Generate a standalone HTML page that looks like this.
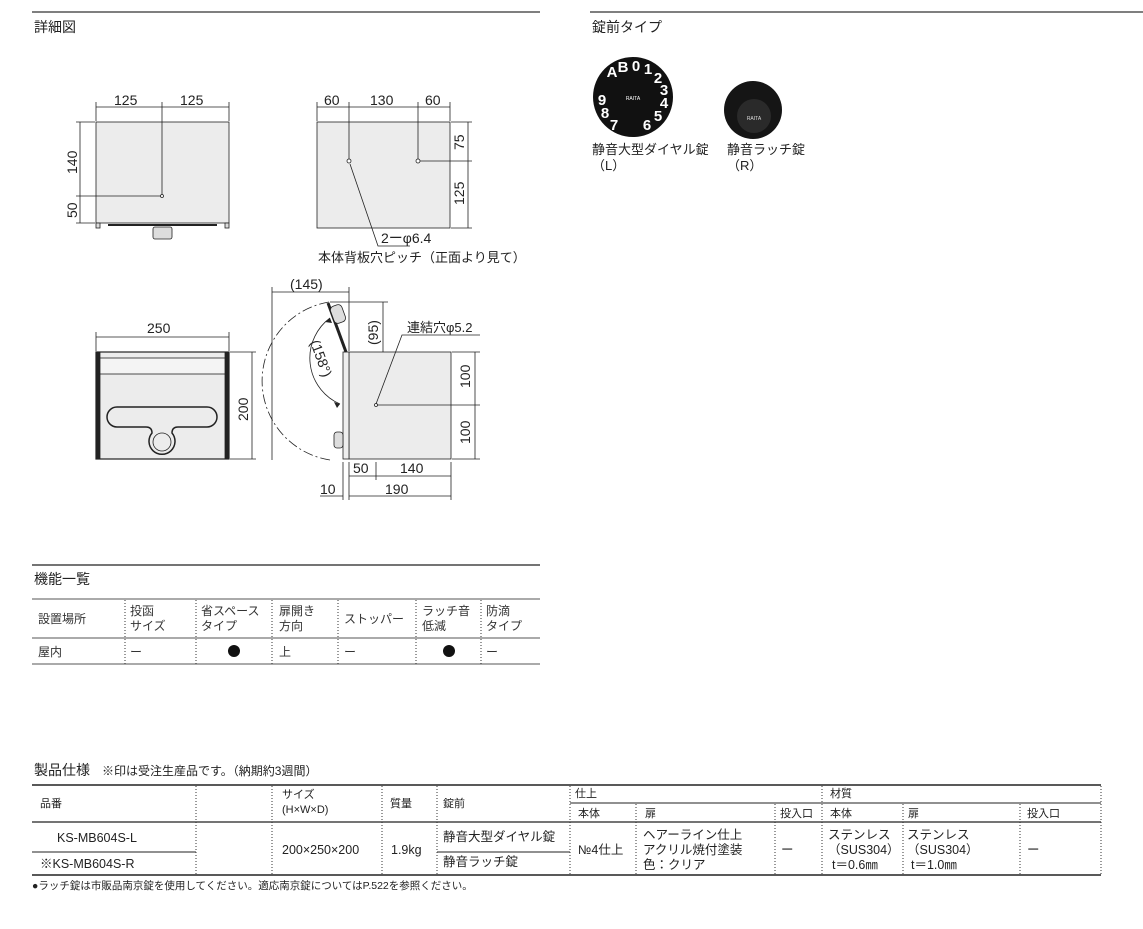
<!DOCTYPE html>
<html><head><meta charset="utf-8"><style>
html,body{margin:0;padding:0;background:#fff;}
svg{display:block;font-family:"Liberation Sans","Noto Sans CJK JP",sans-serif;}
</style></head><body>
<svg width="1143" height="929" viewBox="0 0 1143 929" xmlns="http://www.w3.org/2000/svg">
<g fill="#222">
<!-- headers -->
<line x1="32" y1="12" x2="540" y2="12" stroke="#333" stroke-width="1.2"/>
<line x1="590" y1="12" x2="1143" y2="12" stroke="#333" stroke-width="1.2"/>
<text x="34" y="32" font-size="14">詳細図</text>
<text x="592" y="32" font-size="14">錠前タイプ</text>
</g>

<!-- Drawing 1 -->
<g stroke="#222" stroke-width="0.8" fill="none">
<rect x="96" y="122" width="133" height="101" fill="#ececec"/>
<line x1="96" y1="102" x2="96" y2="121"/><line x1="229" y1="102" x2="229" y2="121"/>
<line x1="96" y1="107" x2="229" y2="107"/><line x1="162" y1="102" x2="162" y2="196"/>
<line x1="76" y1="122" x2="95" y2="122"/><line x1="80" y1="122" x2="80" y2="223"/>
<line x1="76" y1="196" x2="162" y2="196"/><line x1="76" y1="223" x2="95" y2="223"/>
<circle cx="162" cy="196" r="1.5" fill="#fff"/>
<rect x="96" y="223" width="4" height="5" fill="#ddd"/><rect x="225" y="223" width="4" height="5" fill="#ddd"/>
<line x1="108" y1="225" x2="217" y2="225" stroke-width="2"/>
<rect x="153" y="227" width="19" height="12" rx="2" fill="#ddd"/>
</g>
<g font-size="14" fill="#222">
<text x="114" y="105">125</text><text x="180" y="105">125</text>
<text transform="translate(77,174) rotate(-90)">140</text>
<text transform="translate(77,218) rotate(-90)">50</text>
</g>

<!-- Drawing 2 -->
<g stroke="#222" stroke-width="0.8" fill="none">
<rect x="317" y="122" width="133" height="106" fill="#ececec"/>
<line x1="317" y1="102" x2="317" y2="121"/><line x1="450" y1="102" x2="450" y2="121"/>
<line x1="317" y1="107" x2="450" y2="107"/>
<line x1="349" y1="102" x2="349" y2="161"/><line x1="418" y1="102" x2="418" y2="161"/>
<line x1="451" y1="122" x2="472" y2="122"/><line x1="418" y1="161" x2="472" y2="161"/>
<line x1="451" y1="228" x2="472" y2="228"/><line x1="468" y1="122" x2="468" y2="228"/>
<circle cx="349" cy="161" r="2" fill="#fff"/><circle cx="418" cy="161" r="2" fill="#fff"/>
<polyline points="350,164 378,246 410,246"/>
</g>
<g font-size="14" fill="#222">
<text x="324" y="105">60</text><text x="370" y="105">130</text><text x="425" y="105">60</text>
<text transform="translate(464,150) rotate(-90)">75</text>
<text transform="translate(464,205) rotate(-90)">125</text>
<text x="381" y="243">2ーφ6.4</text>
<text x="318" y="262" font-size="13">本体背板穴ピッチ（正面より見て）</text>
</g>

<!-- Drawing 3 -->
<g stroke="#222" stroke-width="0.8" fill="none">
<line x1="96" y1="332" x2="96" y2="351"/><line x1="229" y1="332" x2="229" y2="351"/>
<line x1="96" y1="337" x2="229" y2="337"/>
<line x1="230" y1="352" x2="256" y2="352"/><line x1="230" y1="459" x2="256" y2="459"/>
<line x1="252" y1="352" x2="252" y2="459"/>
<rect x="96" y="352" width="133" height="107" fill="#ececec" stroke-width="1.2"/>
<rect x="96" y="352" width="4" height="107" fill="#222"/><rect x="225" y="352" width="4" height="107" fill="#222"/>
<rect x="100" y="358" width="125" height="16" fill="#f4f4f4"/>
<path d="M117,407 H207 A10,10 0 0 1 207,427 H178 Q172,427 172,433 A13,13 0 1 1 152,433 Q152,427 146,427 H117 A10,10 0 0 1 117,407 Z" stroke-width="1.5"/>
<circle cx="162" cy="442" r="9"/>
</g>
<g font-size="14" fill="#222">
<text x="147" y="333">250</text>
<text transform="translate(248,421) rotate(-90)">200</text>
</g>

<!-- Drawing 4 -->
<g stroke="#222" stroke-width="0.8" fill="none">
<rect x="349" y="352" width="102" height="107" fill="#ececec"/>
<rect x="343" y="352" width="6" height="107" fill="#eee"/>
<line x1="349" y1="287" x2="349" y2="351"/><line x1="272" y1="287" x2="272" y2="460"/>
<line x1="272" y1="292" x2="349" y2="292"/>
<line x1="330" y1="302" x2="388" y2="302"/><line x1="383" y1="302" x2="383" y2="352"/>
<line x1="452" y1="352" x2="480" y2="352"/><line x1="376" y1="405" x2="480" y2="405"/>
<line x1="452" y1="459" x2="480" y2="459"/><line x1="475" y1="352" x2="475" y2="459"/>
<circle cx="376" cy="405" r="1.5" fill="#fff"/>
<polyline points="376,404 402,335 480,335"/>
<path d="M329,302 A80,80 0 0 0 330,460" stroke-dasharray="10,3,2,3"/>
<line x1="328" y1="303" x2="346" y2="352" stroke-width="3"/>
<rect x="332" y="305" width="12" height="18" rx="4" fill="#ddd" transform="rotate(-20 338 314)"/>
<rect x="334" y="432" width="9" height="16" rx="3" fill="#ddd"/>
<path d="M330,318 A50,50 0 0 0 340,404"/>
<line x1="343" y1="462" x2="343" y2="500"/><line x1="349" y1="462" x2="349" y2="500"/>
<line x1="451" y1="462" x2="451" y2="500"/><line x1="376" y1="462" x2="376" y2="480"/>
<line x1="349" y1="476" x2="451" y2="476"/>
<line x1="349" y1="496" x2="451" y2="496"/><line x1="320" y1="496" x2="343" y2="496"/>
</g>
<path d="M330,318 l-5,4 l7,1 z M340,404 l-6,-2 l3,6 z" fill="#222"/>
<g font-size="14" fill="#222">
<text x="290" y="289">(145)</text>
<text transform="translate(378,345) rotate(-90)">(95)</text>
<text transform="translate(310,342) rotate(70)">(158°)</text>
<text x="407" y="332" font-size="13">連結穴φ5.2</text>
<text transform="translate(470,388) rotate(-90)">100</text>
<text transform="translate(470,444) rotate(-90)">100</text>
<text x="353" y="473">50</text><text x="400" y="473">140</text>
<text x="320" y="494">10</text><text x="385" y="494">190</text>
</g>

<!-- Locks -->
<circle cx="633" cy="97" r="40" fill="#111"/>
<g fill="#fff" font-size="15" font-weight="bold" text-anchor="middle">
<text x="612" y="77">A</text><text x="623" y="72">B</text><text x="636" y="71">0</text>
<text x="648" y="74">1</text><text x="658" y="83">2</text><text x="664" y="95">3</text>
<text x="664" y="108">4</text><text x="658" y="121">5</text><text x="647" y="130">6</text>
<text x="614" y="130">7</text><text x="605" y="118">8</text><text x="602" y="105">9</text>
<text x="633" y="100" font-size="5" font-weight="normal">RAITA</text>
</g>
<circle cx="753" cy="110" r="29" fill="#151515"/>
<circle cx="754" cy="116" r="17" fill="#2a2a2a"/>
<text x="754" y="120" fill="#ddd" font-size="5" text-anchor="middle">RAITA</text>
<g font-size="13" fill="#222">
<text x="592" y="154">静音大型ダイヤル錠</text><text x="592" y="170">（L）</text>
<text x="727" y="154">静音ラッチ錠</text><text x="727" y="170">（R）</text>
</g>

<!-- Function table -->
<line x1="32" y1="565" x2="540" y2="565" stroke="#222" stroke-width="1.2"/>
<text x="34" y="584" font-size="14" fill="#222">機能一覧</text>
<g stroke="#555" stroke-width="1">
<line x1="32" y1="599" x2="540" y2="599"/><line x1="32" y1="638" x2="540" y2="638"/><line x1="32" y1="664" x2="540" y2="664"/>
</g>
<g stroke="#333" stroke-width="1" stroke-dasharray="1,2">
<line x1="125" y1="600" x2="125" y2="664"/><line x1="196" y1="600" x2="196" y2="664"/>
<line x1="272" y1="600" x2="272" y2="664"/><line x1="338" y1="600" x2="338" y2="664"/>
<line x1="416" y1="600" x2="416" y2="664"/><line x1="481" y1="600" x2="481" y2="664"/>
</g>
<g font-size="12" fill="#333">
<text x="38" y="623">設置場所</text>
<text x="130" y="615">投函</text><text x="130" y="630">サイズ</text>
<text x="201" y="615">省スペース</text><text x="201" y="630">タイプ</text>
<text x="279" y="615">扉開き</text><text x="279" y="630">方向</text>
<text x="344" y="623">ストッパー</text>
<text x="422" y="615">ラッチ音</text><text x="422" y="630">低減</text>
<text x="486" y="615">防滴</text><text x="486" y="630">タイプ</text>
<text x="38" y="656">屋内</text><text x="130" y="656">ー</text><text x="279" y="656">上</text>
<text x="344" y="656">ー</text><text x="486" y="656">ー</text>
</g>
<circle cx="234" cy="651" r="6" fill="#111"/><circle cx="449" cy="651" r="6" fill="#111"/>

<!-- Spec table -->
<text x="34" y="775" font-size="14" fill="#222">製品仕様<tspan font-size="12" dx="12">※印は受注生産品です。（納期約3週間）</tspan></text>
<g stroke="#222">
<line x1="32" y1="785" x2="1101" y2="785" stroke-width="1.5"/>
<line x1="570" y1="803" x2="1101" y2="803" stroke-width="1"/>
<line x1="32" y1="822" x2="1101" y2="822" stroke-width="1.2"/>
<line x1="32" y1="852" x2="196" y2="852" stroke-width="1"/>
<line x1="437" y1="852" x2="570" y2="852" stroke-width="1"/>
<line x1="32" y1="875" x2="1101" y2="875" stroke-width="1.5"/>
</g>
<g stroke="#333" stroke-width="1" stroke-dasharray="1,2">
<line x1="196" y1="786" x2="196" y2="875"/><line x1="272" y1="786" x2="272" y2="875"/>
<line x1="382" y1="786" x2="382" y2="875"/><line x1="437" y1="786" x2="437" y2="875"/>
<line x1="570" y1="786" x2="570" y2="875"/><line x1="636" y1="804" x2="636" y2="875"/>
<line x1="775" y1="804" x2="775" y2="875"/><line x1="822" y1="786" x2="822" y2="875"/>
<line x1="903" y1="804" x2="903" y2="875"/><line x1="1020" y1="804" x2="1020" y2="875"/>
<line x1="1101" y1="786" x2="1101" y2="875"/>
</g>
<g font-size="11" fill="#222">
<text x="40" y="807">品番</text>
<text x="282" y="798">サイズ</text><text x="282" y="813">(H×W×D)</text>
<text x="390" y="807">質量</text><text x="443" y="807">錠前</text>
<text x="575" y="797">仕上</text><text x="830" y="797">材質</text>
<text x="578" y="817">本体</text><text x="645" y="817">扉</text><text x="780" y="817">投入口</text>
<text x="830" y="817">本体</text><text x="908" y="817">扉</text><text x="1027" y="817">投入口</text>
</g>
<g font-size="12.5" fill="#222">
<text x="57" y="842">KS-MB604S-L</text>
<text x="40" y="868">※KS-MB604S-R</text>
<text x="282" y="854">200×250×200</text>
<text x="391" y="854">1.9kg</text>
<text x="443" y="841">静音大型ダイヤル錠</text>
<text x="443" y="866">静音ラッチ錠</text>
<text x="578" y="854">№4仕上</text>
<text x="643" y="839">ヘアーライン仕上</text>
<text x="643" y="854">アクリル焼付塗装</text>
<text x="643" y="869">色：クリア</text>
<text x="781" y="854">ー</text>
<text x="828" y="839">ステンレス</text><text x="828" y="854">（SUS304）</text><text x="832" y="869">t＝0.6㎜</text>
<text x="907" y="839">ステンレス</text><text x="907" y="854">（SUS304）</text><text x="911" y="869">t＝1.0㎜</text>
<text x="1027" y="854">ー</text>
</g>
<text x="32" y="889" font-size="10.5" fill="#222">●ラッチ錠は市販品南京錠を使用してください。適応南京錠についてはP.522を参照ください。</text>
</svg>
</body></html>
